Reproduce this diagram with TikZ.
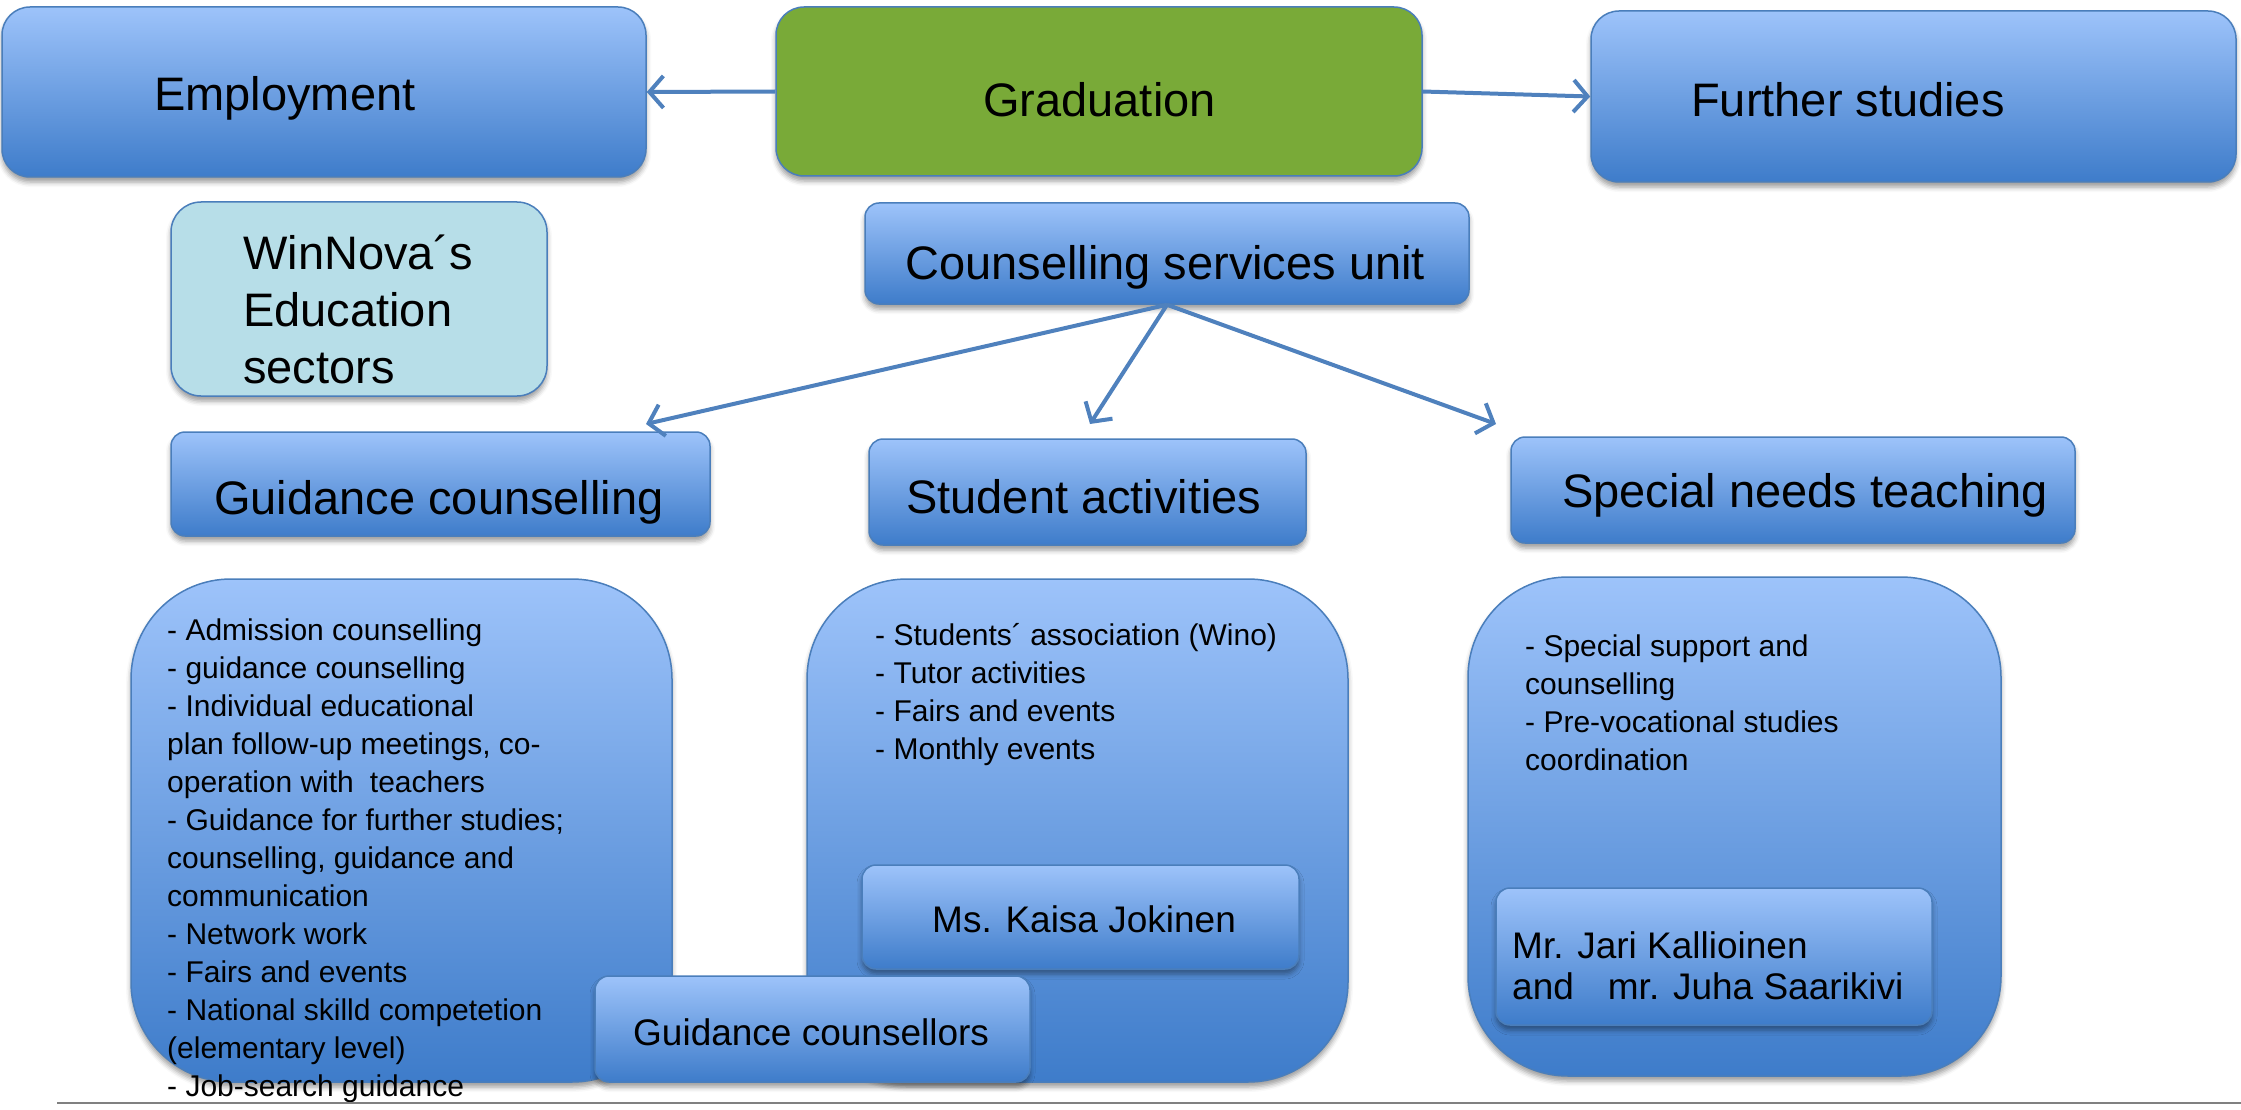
\documentclass[tikz,border=0pt]{standalone}
\usepackage{fontspec}
\setmainfont{Liberation Sans}
\usetikzlibrary{arrows.meta,shadows.blur}
\definecolor{bxtop}{RGB}{157,195,250}
\definecolor{bxbot}{RGB}{62,124,202}
\definecolor{bxedge}{RGB}{74,126,187}
\definecolor{grn}{RGB}{121,170,56}
\definecolor{lightb}{RGB}{183,222,232}
\definecolor{arr}{RGB}{79,129,189}
\definecolor{sepline}{RGB}{128,128,128}
\begin{document}
\begin{tikzpicture}[x=1pt,y=-1pt,
  shad/.style={blur shadow={shadow xshift=0pt,shadow yshift=-5pt,shadow blur radius=5pt,shadow opacity=40}},
  bluebox/.style={draw=bxedge,line width=1.5pt,top color=bxtop,bottom color=bxbot,inner sep=0pt,shad},
  greenbox/.style={draw=bxedge,line width=1.5pt,fill=grn,inner sep=0pt,shad},
  palebox/.style={draw=bxedge,line width=1.5pt,fill=lightb,inner sep=0pt,shad},
  ttltxt/.style={font=\fontsize{47}{57}\selectfont,inner sep=0pt,anchor=base west,align=left},
  bodytxt/.style={font=\fontsize{30}{38}\selectfont,inner sep=0pt,anchor=north west,align=left},
  persontxt/.style={font=\fontsize{37}{41}\selectfont,inner sep=0pt,anchor=base west,align=left},
  conn/.style={draw=arr,line width=4pt,-{Straight Barb[length=14pt,width=32pt]}}
]
\useasboundingbox (0,0) rectangle (2241,1110);
% top row
\node[bluebox,rounded corners=28pt,minimum width=644pt,minimum height=170pt] (emp) at (324,92) {};
\node[greenbox,rounded corners=28pt,minimum width=646pt,minimum height=169pt] (grad) at (1099,91.5) {};
\node[bluebox,rounded corners=28pt,minimum width=645pt,minimum height=171pt] (fur) at (1913.5,96.5) {};
\node[ttltxt] (empT) at (154,111) {Employment};
\node[ttltxt] (gradT) at (983,117) {Graduation};
\node[ttltxt] (furT) at (1691,117) {Further studies};
% second row
\node[palebox,rounded corners=30pt,minimum width=376pt,minimum height=194pt] (win) at (359,299) {};
\node[ttltxt] (winT) at (243,383) {WinNova´s\\Education\\sectors};
\node[bluebox,rounded corners=14pt,minimum width=604pt,minimum height=101pt] (csu) at (1167,253.5) {};
\node[ttltxt] (csuT) at (905,279) {Counselling services unit};
% third row
\node[bluebox,rounded corners=14pt,minimum width=539pt,minimum height=104pt] (gc) at (440.5,484) {};
\node[ttltxt] (gcT) at (214,514) {Guidance counselling};
\node[bluebox,rounded corners=14pt,minimum width=437pt,minimum height=106pt] (sa) at (1087.5,492) {};
\node[ttltxt] (saT) at (906,513) {Student activities};
\node[bluebox,rounded corners=14pt,minimum width=564pt,minimum height=106pt] (sn) at (1793,490) {};
\node[ttltxt] (snT) at (1562,507) {Special needs teaching};
% big boxes
\node[bluebox,rounded corners=100pt,minimum width=541pt,minimum height=503pt] (lb) at (401.5,830.5) {};
\node[bluebox,rounded corners=100pt,minimum width=541pt,minimum height=503pt] (mb) at (1077.5,830.5) {};
\node[bluebox,rounded corners=100pt,minimum width=533pt,minimum height=499pt] (rb) at (1734.5,826.5) {};
\node[bodytxt] (lbT) at (167,619) {- Admission counselling\\- guidance counselling\\- Individual educational\\plan follow-up meetings, co-\\operation with\hspace{16pt}teachers\\- Guidance for further studies;\\counselling, guidance and\\communication\\- Network work\\- Fairs and events\\- National skilld competetion\\(elementary level)\\- Job-search guidance};
\node[bodytxt] (mbT) at (875,623) {- Students´ association (Wino)\\- Tutor activities\\- Fairs and events\\- Monthly events};
\node[bodytxt] (rbT) at (1525,635) {- Special support and\\counselling\\- Pre-vocational studies\\coordination};
% inner boxes
\node[bluebox,rounded corners=14pt,minimum width=437pt,minimum height=104pt] (kj) at (1080.5,917) {};
\node[persontxt] (kjT) at (932,932) {Ms. Kaisa Jokinen};
\node[bluebox,rounded corners=14pt,minimum width=436pt,minimum height=137pt] (jk) at (1714,956.5) {};
\node[persontxt] (jkT) at (1512,999) {Mr. Jari Kallioinen\\and\hspace{34pt}mr. Juha Saarikivi};
\node[bluebox,rounded corners=14pt,minimum width=435pt,minimum height=106pt] (gcs) at (812.5,1029) {};
\node[persontxt] (gcsT) at (633,1045) {Guidance counsellors};
% connectors
\coordinate (gcIn) at (646,424);
\coordinate (saIn) at (1090,424);
\coordinate (snIn) at (1496,424);
\draw[conn] (grad.west) -- (emp.east);
\draw[conn] (grad.east) -- (fur.west);
\draw[conn] (csu.south) -- (gcIn);
\draw[conn] (csu.south) -- (saIn);
\draw[conn] (csu.south) -- (snIn);
% separator line
\draw[sepline,line width=2.5pt] (57,1103) -- (2241,1103);
\end{tikzpicture}
\end{document}
